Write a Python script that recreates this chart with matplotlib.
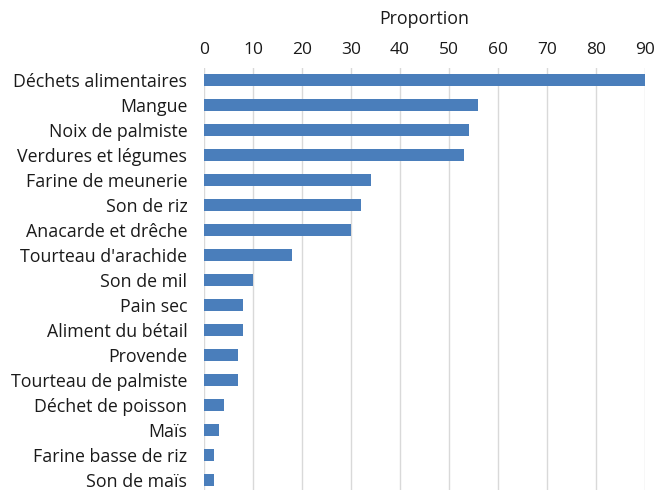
import matplotlib
matplotlib.use('Agg')
import matplotlib.pyplot as plt

# catégories (de haut en bas) et proportions
categories = ['Déchets alimentaires', 'Mangue', 'Noix de palmiste', 'Verdures et légumes',
              'Farine de meunerie', 'Son de riz', 'Anacarde et drêche', "Tourteau d'arachide",
              'Son de mil', 'Pain sec', 'Aliment du bétail', 'Provende', 'Tourteau de palmiste',
              'Déchet de poisson', 'Maïs', 'Farine basse de riz', 'Son de maïs']
values = [90, 56, 54, 53, 34, 32, 30, 18, 10, 8, 8, 7, 7, 4, 3, 2, 2]
ticks = [0, 10, 20, 30, 40, 50, 60, 70, 80, 90]

plt.rcParams['font.family'] = ['Open Sans', 'DejaVu Sans']

fig = plt.figure(figsize=(6.57, 4.9), dpi=100)
ax = fig.add_axes([204 / 657, -0.005, 441 / 657, 0.867])

y = list(range(len(categories)))
ax.barh(y, values, height=0.48, color='#4a7ebb', zorder=3)
ax.set_ylim(len(categories) - 0.5, -0.5)
ax.set_xlim(0, 90)
ax.set_yticks(y)
ax.set_yticklabels(categories, fontsize=12.8, color='#1a1a1a')
ax.set_xticks(ticks)
ax.set_xticklabels([str(t) for t in ticks], fontsize=12.5, color='#1a1a1a')
ax.xaxis.tick_top()
ax.xaxis.set_label_position('top')
ax.set_xlabel('Proportion', fontsize=12.8, color='#1a1a1a', labelpad=13)
ax.tick_params(axis='y', length=0, pad=12)
ax.tick_params(axis='x', length=0, pad=7)
ax.grid(axis='x', color='#d9d9d9', linewidth=1, zorder=0)
for s in ax.spines.values():
    s.set_visible(False)

fig.savefig('out.png', dpi=100)
